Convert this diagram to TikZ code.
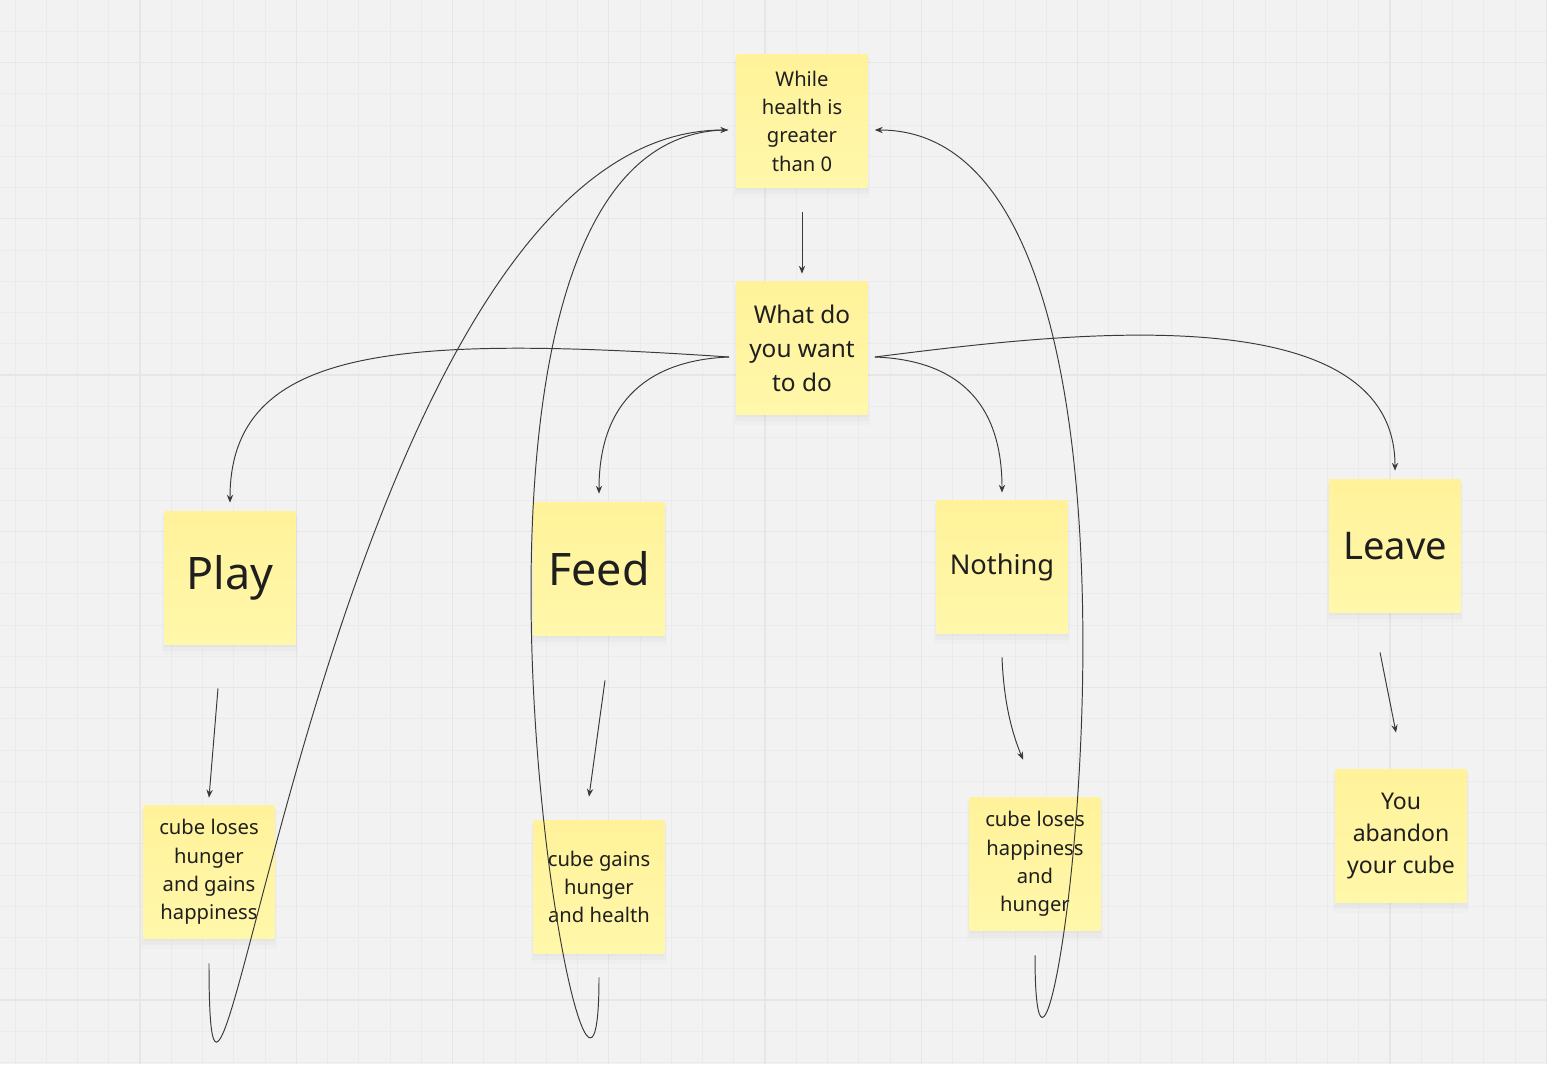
\documentclass[tikz,border=0pt]{standalone}
\usepackage{fontspec}
\setmainfont{Noto Sans}
\usetikzlibrary{arrows.meta,shadows}

\definecolor{board}{HTML}{F2F2F2}
\definecolor{gridline}{HTML}{EBEBEB}
\definecolor{gridmajor}{HTML}{E6E6E6}
\definecolor{notetop}{HTML}{FFF29A}
\definecolor{notebot}{HTML}{FFF7AA}
\definecolor{ink}{HTML}{3A3A3A}

\tikzset{
	note/.style={minimum width=2.62cm, minimum height=2.68cm, inner sep=0pt, align=center,
		top color=notetop, bottom color=notebot, text=black!88,
		drop shadow={shadow xshift=0pt, shadow yshift=-1pt, opacity=0.05},
		drop shadow={shadow xshift=0pt, shadow yshift=-2.5pt, shadow scale=1.02, opacity=0.035},
		drop shadow={shadow xshift=0pt, shadow yshift=-4pt, shadow scale=1.04, opacity=0.025}},
	link/.style={draw=ink, line width=0.55pt, -{Stealth[length=4.5pt,width=3.6pt]}},
	loopback/.style={draw=ink, line width=0.55pt},
}
\newcommand{\fs}[2]{\fontsize{#1}{#2}\selectfont}

\begin{document}
\begin{tikzpicture}[x=0.02cm,y=-0.02cm]
	\useasboundingbox (0,0) rectangle (1547,1064);
	\fill[board] (0,0) rectangle (1547,1064);
	% grid of the board
	\foreach \i in {0,...,49} \draw[gridline, line width=0.5pt] ({15+31.25*\i},0) -- ({15+31.25*\i},1064);
	\foreach \j in {1,...,34} \draw[gridline, line width=0.5pt] (0,{31.25*\j}) -- (1547,{31.25*\j});
	\foreach \i in {0,...,9} \draw[gridmajor, line width=0.8pt] ({140+156.25*\i},0) -- ({140+156.25*\i},1064);
	\foreach \j in {0,...,6} \draw[gridmajor, line width=0.8pt] (0,{62.5+156.25*\j}) -- (1547,{62.5+156.25*\j});

	% sticky notes
	\node[note, font=\fs{11.5}{16.1}] (loop) at (802,121) {While\\health is\\greater\\than 0};
	\node[note, font=\fs{13.9}{19.35}] (ask) at (802,348) {What do\\you want\\to do};
	\node[note, font=\fs{25.5}{30}] (play) at (230,578) {Play};
	\node[note, font=\fs{25.5}{30}] (feed) at (599,569) {Feed};
	\node[note, font=\fs{15.5}{19}] (nothing) at (1002,567) {Nothing};
	\node[note, font=\fs{21.7}{26}] (leave) at (1395,546) {Leave};
	\node[note, font=\fs{11.5}{16.1}] (playres) at (209,872) {cube loses\\hunger\\and gains\\happiness};
	\node[note, font=\fs{11.5}{16}] (feedres) at (599,887) {cube gains\\hunger\\and health};
	\node[note, font=\fs{11.5}{16.1}] (nothingres) at (1035,864) {cube loses\\happiness\\and\\hunger};
	\node[note, font=\fs{13.1}{18.2}] (leaveres) at (1401,836) {You\\abandon\\your cube};

	% choices
	\draw[link] ([shift={(0,24)}]loop.south) -- ([shift={(0,-7)}]ask.north);
	\draw[link] ([shift={(-7,9)}]ask.west) .. controls (400,335) and (230,345) .. ([shift={(0,-8)}]play.north);
	\draw[link] ([shift={(-7,9)}]ask.west) .. controls (650,360) and (599,400) .. ([shift={(0,-8)}]feed.north);
	\draw[link] ([shift={(7,9)}]ask.east) .. controls (955,360) and (1002,400) .. ([shift={(0,-7)}]nothing.north);
	\draw[link] ([shift={(7,9)}]ask.east) .. controls (1050,335) and (1395,290) .. ([shift={(0,-8)}]leave.north);

	% results
	\draw[link] ([shift={(-12,43)}]play.south) -- ([shift={(0,-7)}]playres.north);
	\draw[link] ([shift={(6,44)}]feed.south) -- ([shift={(-10,-23)}]feedres.north);
	\draw[link] ([shift={(0,23)}]nothing.south) .. controls (1004,710) and (1015,740) .. ([shift={(-12,-37)}]nothingres.north);
	\draw[link] ([shift={(-15,39)}]leave.south) -- ([shift={(-5,-36)}]leaveres.north);

	% back to the loop
	\draw[loopback] ([shift={(0,23)}]feedres.south) .. controls (599,1315) and (380,130) .. ([shift={(-8,9)}]loop.west);
	\draw[link] ([shift={(0,24)}]playres.south) .. controls (209,1360) and (330,130) .. ([shift={(-8,9)}]loop.west);
	\draw[link] ([shift={(0,24)}]nothingres.south) .. controls (1035,1295) and (1214,130) .. ([shift={(7,9)}]loop.east);
\end{tikzpicture}
\end{document}
